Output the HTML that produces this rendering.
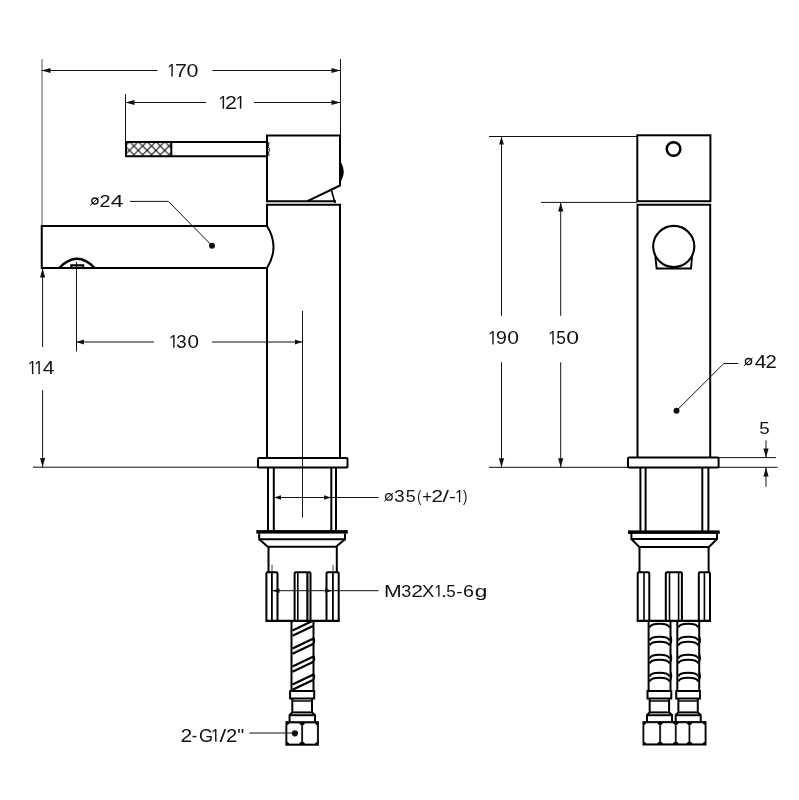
<!DOCTYPE html>
<html><head><meta charset="utf-8"><style>
html,body{margin:0;padding:0;background:#fff;}
svg{display:block;will-change:transform;}
text{font-family:"Liberation Sans",sans-serif;}
</style></head><body>
<svg width="799" height="800" viewBox="0 0 799 800" shape-rendering="geometricPrecision">
<rect width="799" height="800" fill="#fff"/>
<line x1="42" y1="59" x2="42" y2="226" stroke="#555" stroke-width="1.0"/>
<line x1="340.5" y1="59" x2="340.5" y2="135" stroke="#111" stroke-width="1.0"/>
<line x1="41.5" y1="70.5" x2="157.5" y2="70.5" stroke="#111" stroke-width="1.0"/>
<line x1="212.5" y1="70.5" x2="340.5" y2="70.5" stroke="#111" stroke-width="1.0"/>
<polygon points="41.5,70.5 50.50,67.90 50.50,73.10" fill="#111"/>
<polygon points="340.5,70.5 331.50,73.10 331.50,67.90" fill="#111"/>
<clipPath id="c1_1"><rect x="162.1694464158978" y="60" width="20" height="13.769268985095806"/></clipPath>
<g clip-path="url(#c1_1)"><text transform="translate(167.17,76.5) scale(0.900,1)" font-size="18.17" fill="#111">1</text></g>
<rect x="171.28" y="73.67" width="1.45" height="2.83" fill="#111"/>
<text transform="translate(174.90,76.5) scale(1.180,1)" font-size="18.17" fill="#111">7</text>
<text transform="translate(186.41,76.5) scale(1.180,1)" font-size="18.17" fill="#111">0</text>
<line x1="125.5" y1="94" x2="125.5" y2="142" stroke="#111" stroke-width="1.0"/>
<line x1="125.5" y1="102.5" x2="206" y2="102.5" stroke="#111" stroke-width="1.0"/>
<line x1="254" y1="102.5" x2="340.5" y2="102.5" stroke="#111" stroke-width="1.0"/>
<polygon points="125.5,102.5 134.50,99.90 134.50,105.10" fill="#111"/>
<polygon points="340.5,102.5 331.50,105.10 331.50,99.90" fill="#111"/>
<clipPath id="c1_2"><rect x="213.48080198722496" y="92.1" width="20" height="13.858623136976576"/></clipPath>
<g clip-path="url(#c1_2)"><text transform="translate(218.48,108.7) scale(0.900,1)" font-size="18.31" fill="#111">1</text></g>
<rect x="222.63" y="105.86" width="1.46" height="2.84" fill="#111"/>
<text transform="translate(225.02,108.7) scale(1.175,1)" font-size="18.31" fill="#111">2</text>
<clipPath id="c1_3"><rect x="230.68080198722498" y="92.1" width="20" height="13.858623136976576"/></clipPath>
<g clip-path="url(#c1_3)"><text transform="translate(235.68,108.7) scale(0.900,1)" font-size="18.31" fill="#111">1</text></g>
<rect x="239.83" y="105.86" width="1.46" height="2.84" fill="#111"/>
<defs><pattern id="hatch" patternUnits="userSpaceOnUse" width="8.8" height="8.8" x="129.5" y="141.6"><path d="M-1,-1 L9.8,9.8 M9.8,-1 L-1,9.8" stroke="#000" stroke-width="1.0"/></pattern></defs>
<rect x="126" y="142.5" width="45" height="13" fill="url(#hatch)"/>
<path d="M267,142 H126 V156.2 H267" stroke="#000" stroke-width="2.0" fill="none" />
<line x1="171.3" y1="142" x2="171.3" y2="156.2" stroke="#000" stroke-width="2"/>
<path d="M267,201.2 V135.5 H340 V185.5 L307.5,201.2" stroke="#000" stroke-width="2.0" fill="none" />
<line x1="266" y1="201.2" x2="336" y2="201.2" stroke="#000" stroke-width="2"/>
<path d="M331.5,190.5 L335,203" stroke="#000" stroke-width="1.6" fill="none" />
<path d="M268,142.5 L269,143 L268,147 L269.5,148.5 L268.8,149.5 L269.8,150 L268.5,152 L269,156" stroke="#000" stroke-width="0.9" fill="none" />
<path d="M340.5,163.5 Q345,171.5 340.5,180 Z" stroke="#000" stroke-width="2" fill="#000" />
<path d="M267,204.8 H340 V457.8" stroke="#000" stroke-width="2.0" fill="none" />
<path d="M267,203.8 V226" stroke="#000" stroke-width="2.0" fill="none" />
<path d="M267,268 V457.8" stroke="#000" stroke-width="2.0" fill="none" />
<path d="M267,226 H41.75 V268 H267" stroke="#000" stroke-width="2.0" fill="none" />
<path d="M267,226 Q280,247 267,268" stroke="#000" stroke-width="2.0" fill="none" />
<path d="M59.2,268 C66,261 71,258.8 77,258.8 C83,258.8 88,261 94.7,268" stroke="#000" stroke-width="2.5" fill="none" />
<rect x="71.3" y="265.3" width="11.900000000000006" height="2.6999999999999886" rx="0" stroke="#000" stroke-width="2.1" fill="none"/>
<circle cx="94.9" cy="201.1" r="3.1" stroke="#111" stroke-width="1.3" fill="none"/>
<line x1="90.2" y1="205.6" x2="98.9" y2="197.29999999999998" stroke="#111" stroke-width="1.0"/>
<text transform="translate(99.51,206.5) scale(1.157,1)" font-size="17.08" fill="#111">2</text>
<text transform="translate(110.73,206.5) scale(1.336,1)" font-size="17.08" fill="#111">4</text>
<line x1="130" y1="201.4" x2="168.4" y2="201.4" stroke="#111" stroke-width="1.0"/>
<line x1="168.4" y1="201.4" x2="212" y2="245.7" stroke="#111" stroke-width="1.0"/>
<circle cx="212" cy="245.7" r="3" fill="#111"/>
<line x1="42.6" y1="268" x2="42.6" y2="347" stroke="#111" stroke-width="1.0"/>
<line x1="42.6" y1="390" x2="42.6" y2="467" stroke="#111" stroke-width="1.0"/>
<polygon points="42.6,268.5 45.20,277.50 40.00,277.50" fill="#111"/>
<polygon points="42.6,467 40.00,458.00 45.20,458.00" fill="#111"/>
<clipPath id="c1_4"><rect x="22.780801987224994" y="357.6" width="20" height="13.858623136976576"/></clipPath>
<g clip-path="url(#c1_4)"><text transform="translate(27.78,374.2) scale(0.900,1)" font-size="18.31" fill="#111">1</text></g>
<rect x="31.93" y="371.36" width="1.46" height="2.84" fill="#111"/>
<clipPath id="c1_5"><rect x="29.180801987224996" y="357.6" width="20" height="13.858623136976576"/></clipPath>
<g clip-path="url(#c1_5)"><text transform="translate(34.18,374.2) scale(0.900,1)" font-size="18.31" fill="#111">1</text></g>
<rect x="38.33" y="371.36" width="1.46" height="2.84" fill="#111"/>
<text transform="translate(42.72,374.2) scale(1.149,1)" font-size="18.31" fill="#111">4</text>
<line x1="33" y1="467.2" x2="258" y2="467.2" stroke="#111" stroke-width="1.0"/>
<line x1="76.5" y1="262" x2="76.5" y2="351.5" stroke="#111" stroke-width="1.0"/>
<line x1="302.5" y1="311" x2="302.5" y2="517.6" stroke="#111" stroke-width="1.0"/>
<line x1="76.4" y1="342" x2="154" y2="342" stroke="#111" stroke-width="1.0"/>
<line x1="212" y1="342" x2="302.5" y2="342" stroke="#111" stroke-width="1.0"/>
<polygon points="76.4,342 83.90,339.50 83.90,344.50" fill="#111"/>
<polygon points="302,342 295.00,344.60 295.00,339.40" fill="#111"/>
<clipPath id="c1_6"><rect x="163.98080198722496" y="331" width="20" height="13.858623136976632"/></clipPath>
<g clip-path="url(#c1_6)"><text transform="translate(168.98,347.6) scale(0.900,1)" font-size="18.31" fill="#111">1</text></g>
<rect x="173.13" y="344.76" width="1.46" height="2.84" fill="#111"/>
<text transform="translate(176.29,347.6) scale(1.013,1)" font-size="18.31" fill="#111">3</text>
<text transform="translate(187.49,347.6) scale(1.131,1)" font-size="18.31" fill="#111">0</text>
<rect x="258" y="458" width="89.5" height="9.5" rx="1" stroke="#000" stroke-width="2.0" fill="none"/>
<line x1="268" y1="467.5" x2="268" y2="530.5" stroke="#000" stroke-width="2"/>
<line x1="273.8" y1="467.5" x2="273.8" y2="530.5" stroke="#000" stroke-width="2"/>
<line x1="331.3" y1="467.5" x2="331.3" y2="530.5" stroke="#000" stroke-width="2"/>
<line x1="336" y1="467.5" x2="336" y2="530.5" stroke="#000" stroke-width="2"/>
<line x1="274" y1="497.5" x2="378.5" y2="497.5" stroke="#111" stroke-width="1.0"/>
<polygon points="274,497.5 281.00,495.20 281.00,499.80" fill="#111"/>
<polygon points="331,497.5 324.00,499.80 324.00,495.20" fill="#111"/>
<circle cx="388.9" cy="496.9" r="3.3" stroke="#111" stroke-width="1.3" fill="none"/>
<line x1="384.2" y1="501.4" x2="392.9" y2="493.09999999999997" stroke="#111" stroke-width="1.0"/>
<text transform="translate(394.19,502.2) scale(1.088,1)" font-size="17.15" fill="#111">3</text>
<text transform="translate(405.78,502.2) scale(1.045,1)" font-size="17.15" fill="#111">5</text>
<text transform="translate(417.21,502.2) scale(0.700,1)" font-size="17.15" fill="#111">(</text>
<text transform="translate(422.28,502.2) scale(0.978,1)" font-size="17.15" fill="#111">+</text>
<text transform="translate(431.46,502.2) scale(1.203,1)" font-size="17.15" fill="#111">2</text>
<text transform="translate(442.43,502.2) scale(1.350,1)" font-size="17.15" fill="#111">/</text>
<text transform="translate(449.09,502.2) scale(1.194,1)" font-size="17.15" fill="#111">-</text>
<clipPath id="c1_7"><rect x="449.9899574166075" y="486.4" width="20" height="13.143789921930477"/></clipPath>
<g clip-path="url(#c1_7)"><text transform="translate(454.99,502.2) scale(0.900,1)" font-size="17.15" fill="#111">1</text></g>
<rect x="458.87" y="499.44" width="1.36" height="2.76" fill="#111"/>
<text transform="translate(463.02,502.2) scale(0.770,1)" font-size="17.15" fill="#111">)</text>
<rect x="256.3" y="530.1" width="91.5" height="3.5" fill="#000"/>
<path d="M259.2,533.5 V539.3 H345 V533.5" stroke="#000" stroke-width="2" fill="none" />
<path d="M259.2,539.3 L267.8,546.8 H336 L345,539.3" stroke="#000" stroke-width="2" fill="none" />
<line x1="268.5" y1="546.8" x2="268.5" y2="572" stroke="#000" stroke-width="2"/>
<line x1="336.8" y1="546.8" x2="336.8" y2="572" stroke="#000" stroke-width="2"/>
<line x1="272" y1="564.8" x2="272" y2="571.8" stroke="#111" stroke-width="0.8"/>
<line x1="333" y1="564.8" x2="333" y2="571.8" stroke="#111" stroke-width="0.8"/>
<path d="M266.4,621 V573.5 Q266.4,572.3 267.6,572.3 H276.3 Q277.5,572.3 277.5,573.5 V621" stroke="#000" stroke-width="2.0" fill="none" />
<line x1="271.9" y1="572.3" x2="271.9" y2="621" stroke="#000" stroke-width="1.8"/>
<path d="M294.6,621 V573.5 Q294.6,572.3 295.8,572.3 H309.3 Q310.5,572.3 310.5,573.5 V621" stroke="#000" stroke-width="2.0" fill="none" />
<line x1="297.8" y1="572.3" x2="297.8" y2="621" stroke="#000" stroke-width="1.6"/>
<line x1="307.4" y1="572.3" x2="307.4" y2="621" stroke="#000" stroke-width="2.2"/>
<path d="M326.5,621 V573.5 Q326.5,572.3 327.7,572.3 H337.5 Q338.7,572.3 338.7,573.5 V621" stroke="#000" stroke-width="2.0" fill="none" />
<line x1="332.9" y1="572.3" x2="332.9" y2="621" stroke="#000" stroke-width="1.8"/>
<line x1="265.4" y1="620.9" x2="339.7" y2="620.9" stroke="#000" stroke-width="2.2"/>
<line x1="272" y1="590.7" x2="378.5" y2="590.7" stroke="#111" stroke-width="1.0"/>
<polygon points="272.5,590.7 279.50,588.40 279.50,593.00" fill="#111"/>
<polygon points="332,590.7 325.00,593.00 325.00,588.40" fill="#111"/>
<text transform="translate(383.96,596.6) scale(1.227,1)" font-size="17.30" fill="#111">M</text>
<text transform="translate(401.22,596.6) scale(1.036,1)" font-size="17.30" fill="#111">3</text>
<text transform="translate(411.35,596.6) scale(1.206,1)" font-size="17.30" fill="#111">2</text>
<text transform="translate(422.09,596.6) scale(1.066,1)" font-size="17.30" fill="#111">X</text>
<clipPath id="c1_8"><rect x="429.25131298793474" y="580.7" width="20" height="13.233144073811218"/></clipPath>
<g clip-path="url(#c1_8)"><text transform="translate(434.25,596.6) scale(0.900,1)" font-size="17.30" fill="#111">1</text></g>
<rect x="438.17" y="593.83" width="1.38" height="2.77" fill="#111"/>
<text transform="translate(440.76,596.6) scale(1.350,1)" font-size="17.30" fill="#111">.</text>
<text transform="translate(446.32,596.6) scale(0.976,1)" font-size="17.30" fill="#111">5</text>
<text transform="translate(456.26,596.6) scale(1.089,1)" font-size="17.30" fill="#111">-</text>
<text transform="translate(463.10,596.6) scale(1.140,1)" font-size="17.30" fill="#111">6</text>
<text transform="translate(474.75,596.6) scale(1.311,1)" font-size="17.30" fill="#111">g</text>
<path d="M291.5,621 V691" stroke="#000" stroke-width="2" fill="none" />
<path d="M313.5,621 V691" stroke="#000" stroke-width="2" fill="none" />
<path d="M292.5,630.5 L312.4,621" stroke="#000" stroke-width="2.2" fill="none" />
<path d="M292.5,635.7 L313.5,625.7" stroke="#000" stroke-width="2.2" fill="none" />
<path d="M292.5,648.5 L313.5,638.5" stroke="#000" stroke-width="2.2" fill="none" />
<path d="M292.5,653.7 L313.5,643.7" stroke="#000" stroke-width="2.2" fill="none" />
<path d="M313.5,638.0 Q315.5,640.5 313.5,643.5" stroke="#000" stroke-width="1.5" fill="none" />
<path d="M292.5,666.5 L313.5,656.5" stroke="#000" stroke-width="2.2" fill="none" />
<path d="M292.5,671.7 L313.5,661.7" stroke="#000" stroke-width="2.2" fill="none" />
<path d="M313.5,656.0 Q315.5,658.5 313.5,661.5" stroke="#000" stroke-width="1.5" fill="none" />
<path d="M292.5,684.5 L313.5,674.5" stroke="#000" stroke-width="2.2" fill="none" />
<path d="M292.5,689.7 L313.5,679.7" stroke="#000" stroke-width="2.2" fill="none" />
<path d="M313.5,674.0 Q315.5,676.5 313.5,679.5" stroke="#000" stroke-width="1.5" fill="none" />
<path d="M290.1,691 H314.19999999999993 V698.4 H290.1 Z" stroke="#000" stroke-width="2" fill="none" />
<path d="M292.3,698.4 V712.4 M311.99999999999994,698.4 V712.4" stroke="#000" stroke-width="2" fill="none" />
<line x1="292.3" y1="701" x2="311.99999999999994" y2="701" stroke="#000" stroke-width="1.5"/>
<line x1="292.3" y1="712.4" x2="311.99999999999994" y2="712.4" stroke="#000" stroke-width="2"/>
<path d="M292.3,712.4 L289.6,715 V721.5 M311.99999999999994,712.4 L314.99999999999994,715 V721.5" stroke="#000" stroke-width="2" fill="none" />
<line x1="289.6" y1="715.2" x2="314.99999999999994" y2="715.2" stroke="#000" stroke-width="2"/>
<rect x="285.4" y="721.2" width="33.5" height="24.5" fill="#000"/>
<path d="M289.4,723.4000000000001 H299.1 L301.1,725.4000000000001 V741.5 L299.1,743.5 H289.4 L287.4,741.5 V725.4000000000001 Z" fill="#fff" stroke="#fff" stroke-width="0.3" stroke-linejoin="round"/>
<path d="M305.1,723.4000000000001 H314.9 L316.9,725.4000000000001 V741.5 L314.9,743.5 H305.1 L303.1,741.5 V725.4000000000001 Z" fill="#fff" stroke="#fff" stroke-width="0.3" stroke-linejoin="round"/>
<circle cx="294.9" cy="733.3" r="3.1" fill="#111"/>
<line x1="249.3" y1="733" x2="295" y2="733" stroke="#111" stroke-width="1.0"/>
<text transform="translate(180.44,741.7) scale(1.179,1)" font-size="17.88" fill="#111">2</text>
<text transform="translate(191.79,741.7) scale(0.894,1)" font-size="17.88" fill="#111">-</text>
<text transform="translate(198.99,741.7) scale(1.011,1)" font-size="17.88" fill="#111">G</text>
<clipPath id="c1_9"><rect x="206.0967352732434" y="725.4" width="20" height="13.59056068133441"/></clipPath>
<g clip-path="url(#c1_9)"><text transform="translate(211.10,741.7) scale(0.900,1)" font-size="17.88" fill="#111">1</text></g>
<rect x="215.14" y="738.89" width="1.42" height="2.81" fill="#111"/>
<text transform="translate(219.55,741.7) scale(1.350,1)" font-size="17.88" fill="#111">/</text>
<text transform="translate(226.08,741.7) scale(1.130,1)" font-size="17.88" fill="#111">2</text>
<text transform="translate(237.17,741.7) scale(1.098,1)" font-size="17.88" fill="#111">&quot;</text>
<line x1="489" y1="136.5" x2="637" y2="136.5" stroke="#111" stroke-width="1.0"/>
<line x1="541" y1="202.4" x2="637" y2="202.4" stroke="#111" stroke-width="1.0"/>
<line x1="501.5" y1="136.5" x2="501.5" y2="315.75" stroke="#111" stroke-width="1.0"/>
<line x1="501.5" y1="362.3" x2="501.5" y2="467.2" stroke="#111" stroke-width="1.0"/>
<polygon points="501.5,136.5 503.90,144.50 499.10,144.50" fill="#111"/>
<polygon points="501.5,467.2 498.90,458.20 504.10,458.20" fill="#111"/>
<line x1="560.7" y1="202.4" x2="560.7" y2="315.75" stroke="#111" stroke-width="1.0"/>
<line x1="560.7" y1="362.3" x2="560.7" y2="467.2" stroke="#111" stroke-width="1.0"/>
<polygon points="560.7,202.4 563.30,211.40 558.10,211.40" fill="#111"/>
<polygon points="560.7,467.2 558.10,458.20 563.30,458.20" fill="#111"/>
<clipPath id="c1_10"><rect x="483.19673527324346" y="328.1" width="20" height="13.590560681334239"/></clipPath>
<g clip-path="url(#c1_10)"><text transform="translate(488.20,344.4) scale(0.900,1)" font-size="17.88" fill="#111">1</text></g>
<rect x="492.24" y="341.59" width="1.42" height="2.81" fill="#111"/>
<text transform="translate(496.09,344.4) scale(1.090,1)" font-size="17.88" fill="#111">9</text>
<text transform="translate(507.27,344.4) scale(1.182,1)" font-size="17.88" fill="#111">0</text>
<clipPath id="c1_11"><rect x="543.1967352732435" y="328.1" width="20" height="13.590560681334239"/></clipPath>
<g clip-path="url(#c1_11)"><text transform="translate(548.20,344.4) scale(0.900,1)" font-size="17.88" fill="#111">1</text></g>
<rect x="552.24" y="341.59" width="1.42" height="2.81" fill="#111"/>
<text transform="translate(556.31,344.4) scale(0.967,1)" font-size="17.88" fill="#111">5</text>
<text transform="translate(566.30,344.4) scale(1.287,1)" font-size="17.88" fill="#111">0</text>
<line x1="489" y1="467.3" x2="628" y2="467.3" stroke="#111" stroke-width="1.0"/>
<line x1="718.6" y1="467.3" x2="777.5" y2="467.3" stroke="#111" stroke-width="1.0"/>
<line x1="718.6" y1="457.6" x2="776" y2="457.6" stroke="#111" stroke-width="1.0"/>
<rect x="637.3" y="135.3" width="73.10000000000002" height="65.89999999999998" rx="0" stroke="#000" stroke-width="2.0" fill="none"/>
<circle cx="673.55" cy="149" r="6.8" stroke="#000" stroke-width="2.5" fill="none"/>
<path d="M637.5,457.6 V204.8 H710.2 V457.6" stroke="#000" stroke-width="2.0" fill="none" />
<circle cx="673.75" cy="246.5" r="20.6" stroke="#000" stroke-width="2.1" fill="none"/>
<path d="M655.4,256.5 L656.6,268.5 H691 L692,257" stroke="#000" stroke-width="1.9" fill="none" />
<circle cx="676.5" cy="410.7" r="3" fill="#111"/>
<line x1="676.5" y1="410.7" x2="723.8" y2="363.5" stroke="#111" stroke-width="1.0"/>
<line x1="723.8" y1="363.5" x2="738.4" y2="363.5" stroke="#111" stroke-width="1.0"/>
<circle cx="748.5" cy="361.6" r="3.1" stroke="#111" stroke-width="1.3" fill="none"/>
<line x1="743.8" y1="366.1" x2="752.5" y2="357.8" stroke="#111" stroke-width="1.0"/>
<text transform="translate(754.77,367.5) scale(1.147,1)" font-size="18.17" fill="#111">4</text>
<text transform="translate(765.48,367.5) scale(1.118,1)" font-size="18.17" fill="#111">2</text>
<line x1="766" y1="440.4" x2="766" y2="457.6" stroke="#111" stroke-width="1.0"/>
<line x1="766" y1="467.6" x2="766" y2="486.8" stroke="#111" stroke-width="1.0"/>
<polygon points="766,457.6 763.40,448.60 768.60,448.60" fill="#111"/>
<polygon points="766,467.6 768.60,476.60 763.40,476.60" fill="#111"/>
<text transform="translate(759.35,433.6) scale(1.104,1)" font-size="17.01" fill="#111">5</text>
<rect x="628" y="457.6" width="90.60000000000002" height="9.899999999999977" rx="1" stroke="#000" stroke-width="2.0" fill="none"/>
<line x1="640.4" y1="467.5" x2="640.4" y2="531" stroke="#000" stroke-width="2"/>
<line x1="645.6" y1="467.5" x2="645.6" y2="531" stroke="#000" stroke-width="2"/>
<line x1="702.3" y1="467.5" x2="702.3" y2="531" stroke="#000" stroke-width="2"/>
<line x1="708.4" y1="467.5" x2="708.4" y2="531" stroke="#000" stroke-width="2"/>
<rect x="628" y="530.4" width="91.7" height="3.5" fill="#000"/>
<path d="M631.4,533.5 V539 H717 V533.5" stroke="#000" stroke-width="2" fill="none" />
<path d="M631.4,539 L639.3,547 H709 L717,539" stroke="#000" stroke-width="2" fill="none" />
<line x1="639.5" y1="547" x2="639.5" y2="572.3" stroke="#000" stroke-width="2"/>
<line x1="708.6" y1="547" x2="708.6" y2="572.3" stroke="#000" stroke-width="2"/>
<path d="M637.7,621 V573.5 Q637.7,572.3 638.9,572.3 H648.1 Q649.3,572.3 649.3,573.5 V621" stroke="#000" stroke-width="2.0" fill="none" />
<line x1="644" y1="572.3" x2="644" y2="620.8" stroke="#000" stroke-width="1.6"/>
<path d="M665.8,621 V573.5 Q665.8,572.3 667,572.3 H680.7 Q681.9,572.3 681.9,573.5 V621" stroke="#000" stroke-width="2.0" fill="none" />
<line x1="669.5" y1="572.3" x2="669.5" y2="620.8" stroke="#000" stroke-width="1.6"/>
<line x1="678.6" y1="572.3" x2="678.6" y2="620.8" stroke="#000" stroke-width="1.6"/>
<path d="M698.8,621 V573.5 Q698.8,572.3 700,572.3 H708.8 Q710,572.3 710,573.5 V621" stroke="#000" stroke-width="2.0" fill="none" />
<line x1="704.4" y1="572.3" x2="704.4" y2="620.8" stroke="#000" stroke-width="1.6"/>
<line x1="636.7" y1="620.8" x2="711" y2="620.8" stroke="#000" stroke-width="2.2"/>
<path d="M648.6,621 V690.5" stroke="#000" stroke-width="2" fill="none" />
<path d="M670.5,621 V690.5" stroke="#000" stroke-width="2" fill="none" />
<path d="M649.6,627.5 C651.1,622.5 668.0,622.5 669.5,627.5" stroke="#000" stroke-width="2.0" fill="none" />
<path d="M649.6,640.5 C651.1,635.5 668.0,635.5 669.5,640.5" stroke="#000" stroke-width="2.0" fill="none" />
<path d="M649.6,645.5 C651.1,640.5 668.0,640.5 669.5,645.5" stroke="#000" stroke-width="2.0" fill="none" />
<path d="M670.5,636 Q672.5,640 670.5,644" stroke="#000" stroke-width="1.5" fill="none" />
<path d="M649.6,658.5 C651.1,653.5 668.0,653.5 669.5,658.5" stroke="#000" stroke-width="2.0" fill="none" />
<path d="M649.6,663.5 C651.1,658.5 668.0,658.5 669.5,663.5" stroke="#000" stroke-width="2.0" fill="none" />
<path d="M670.5,654 Q672.5,658 670.5,662" stroke="#000" stroke-width="1.5" fill="none" />
<path d="M649.6,676.5 C651.1,671.5 668.0,671.5 669.5,676.5" stroke="#000" stroke-width="2.0" fill="none" />
<path d="M649.6,681.5 C651.1,676.5 668.0,676.5 669.5,681.5" stroke="#000" stroke-width="2.0" fill="none" />
<path d="M670.5,672 Q672.5,676 670.5,680" stroke="#000" stroke-width="1.5" fill="none" />
<path d="M647.5,691 H671.25 V698.4 H647.5 Z" stroke="#000" stroke-width="2" fill="none" />
<path d="M649.6680497925311,698.4 V712.4 M669.0819502074688,698.4 V712.4" stroke="#000" stroke-width="2" fill="none" />
<line x1="649.6680497925311" y1="701" x2="669.0819502074688" y2="701" stroke="#000" stroke-width="1.5"/>
<line x1="649.6680497925311" y1="712.4" x2="669.0819502074688" y2="712.4" stroke="#000" stroke-width="2"/>
<path d="M649.6680497925311,712.4 L647.0072614107884,715 V721.5 M669.0819502074688,712.4 L672.0383817427386,715 V721.5" stroke="#000" stroke-width="2" fill="none" />
<line x1="647.0072614107884" y1="715.2" x2="672.0383817427386" y2="715.2" stroke="#000" stroke-width="2"/>
<path d="M677.3,621 V690.5" stroke="#000" stroke-width="2" fill="none" />
<path d="M699.1999999999999,621 V690.5" stroke="#000" stroke-width="2" fill="none" />
<path d="M678.3,627.5 C679.8,622.5 696.6999999999999,622.5 698.1999999999999,627.5" stroke="#000" stroke-width="2.0" fill="none" />
<path d="M678.3,640.5 C679.8,635.5 696.6999999999999,635.5 698.1999999999999,640.5" stroke="#000" stroke-width="2.0" fill="none" />
<path d="M678.3,645.5 C679.8,640.5 696.6999999999999,640.5 698.1999999999999,645.5" stroke="#000" stroke-width="2.0" fill="none" />
<path d="M699.1999999999999,636 Q701.1999999999999,640 699.1999999999999,644" stroke="#000" stroke-width="1.5" fill="none" />
<path d="M678.3,658.5 C679.8,653.5 696.6999999999999,653.5 698.1999999999999,658.5" stroke="#000" stroke-width="2.0" fill="none" />
<path d="M678.3,663.5 C679.8,658.5 696.6999999999999,658.5 698.1999999999999,663.5" stroke="#000" stroke-width="2.0" fill="none" />
<path d="M699.1999999999999,654 Q701.1999999999999,658 699.1999999999999,662" stroke="#000" stroke-width="1.5" fill="none" />
<path d="M678.3,676.5 C679.8,671.5 696.6999999999999,671.5 698.1999999999999,676.5" stroke="#000" stroke-width="2.0" fill="none" />
<path d="M678.3,681.5 C679.8,676.5 696.6999999999999,676.5 698.1999999999999,681.5" stroke="#000" stroke-width="2.0" fill="none" />
<path d="M699.1999999999999,672 Q701.1999999999999,676 699.1999999999999,680" stroke="#000" stroke-width="1.5" fill="none" />
<path d="M676.1999999999999,691 H699.9499999999999 V698.4 H676.1999999999999 Z" stroke="#000" stroke-width="2" fill="none" />
<path d="M678.368049792531,698.4 V712.4 M697.7819502074688,698.4 V712.4" stroke="#000" stroke-width="2" fill="none" />
<line x1="678.368049792531" y1="701" x2="697.7819502074688" y2="701" stroke="#000" stroke-width="1.5"/>
<line x1="678.368049792531" y1="712.4" x2="697.7819502074688" y2="712.4" stroke="#000" stroke-width="2"/>
<path d="M678.368049792531,712.4 L675.7072614107883,715 V721.5 M697.7819502074688,712.4 L700.7383817427385,715 V721.5" stroke="#000" stroke-width="2" fill="none" />
<line x1="675.7072614107883" y1="715.2" x2="700.7383817427385" y2="715.2" stroke="#000" stroke-width="2"/>
<rect x="642.5" y="721.1" width="64.0" height="24.399999999999977" fill="#000"/>
<path d="M646.4,723.3000000000001 H657.1 L659.1,725.3000000000001 V741.3 L657.1,743.3 H646.4 L644.4,741.3 V725.3000000000001 Z" fill="#fff" stroke="#fff" stroke-width="0.3" stroke-linejoin="round"/>
<path d="M663.1,723.3000000000001 H672.8 L674.8,725.3000000000001 V741.3 L672.8,743.3 H663.1 L661.1,741.3 V725.3000000000001 Z" fill="#fff" stroke="#fff" stroke-width="0.3" stroke-linejoin="round"/>
<path d="M678.8,723.3000000000001 H686.4 L688.4,725.3000000000001 V741.3 L686.4,743.3 H678.8 L676.8,741.3 V725.3000000000001 Z" fill="#fff" stroke="#fff" stroke-width="0.3" stroke-linejoin="round"/>
<path d="M692.4,723.3000000000001 H702.5 L704.5,725.3000000000001 V741.3 L702.5,743.3 H692.4 L690.4,741.3 V725.3000000000001 Z" fill="#fff" stroke="#fff" stroke-width="0.3" stroke-linejoin="round"/>
</svg></body></html>
